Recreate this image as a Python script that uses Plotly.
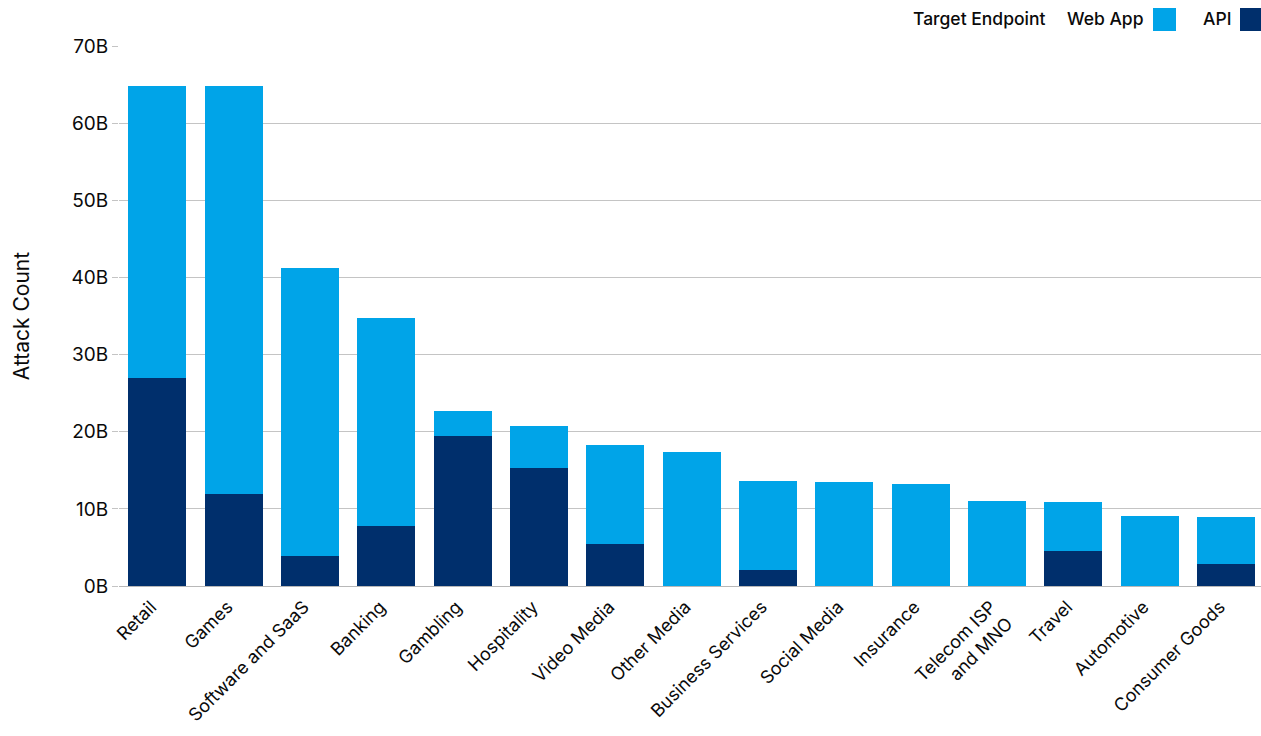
import plotly.graph_objects as go

# Attack counts per industry, in billions
industries = [
    "Retail", "Games", "Software and SaaS", "Banking", "Gambling", "Hospitality",
    "Video Media", "Other Media", "Business Services", "Social Media", "Insurance",
    "Telecom ISP<br>and MNO", "Travel", "Automotive", "Consumer Goods",
]
api_attacks = [27.0, 11.9, 3.9, 7.8, 19.4, 15.3, 5.4, 0.0, 2.1, 0.0, 0.0, 0.0, 4.5, 0.0, 2.8]
web_app_attacks = [37.8, 52.9, 37.3, 26.9, 3.3, 5.4, 12.9, 17.4, 11.5, 13.5, 13.2, 11.0, 6.4, 9.1, 6.1]
y_ticks = [0, 10, 20, 30, 40, 50, 60, 70]
y_tick_labels = [f"{v}B" for v in y_ticks]

WEB_COLOR = "#00A4E8"
API_COLOR = "#002F6C"
FONT = "Inter"
TEXT_COLOR = "#0A0A0A"

W, H = 1261, 736
M_L, M_R, M_T, M_B = 119, 0, 46, 150
PW, PH = W - M_L - M_R, H - M_T - M_B


def px_x(x):
    return (x - M_L) / PW


def px_y(y):
    return (H - M_B - y) / PH


fig = go.Figure()
fig.add_trace(go.Bar(x=industries, y=api_attacks, name="API",
                     marker=dict(color=API_COLOR, line=dict(width=0))))
fig.add_trace(go.Bar(x=industries, y=web_app_attacks, name="Web App",
                     marker=dict(color=WEB_COLOR, line=dict(width=0))))

# Legend drawn as text with swatches on the right side of each label
legend_font = dict(family=FONT, size=17.5, color=TEXT_COLOR, weight=500)
fig.add_annotation(text="Target Endpoint", x=px_x(1047), y=px_y(19), xref="paper", yref="paper",
                   xanchor="right", yanchor="middle", showarrow=False, font=legend_font)
fig.add_annotation(text="Web App", x=px_x(1145), y=px_y(19), xref="paper", yref="paper",
                   xanchor="right", yanchor="middle", showarrow=False, font=legend_font)
fig.add_annotation(text="API", x=px_x(1233), y=px_y(19), xref="paper", yref="paper",
                   xanchor="right", yanchor="middle", showarrow=False, font=legend_font)
fig.add_shape(type="rect", xref="paper", yref="paper", x0=px_x(1153), x1=px_x(1176),
              y0=px_y(31), y1=px_y(8), fillcolor=WEB_COLOR, line=dict(width=0))
fig.add_shape(type="rect", xref="paper", yref="paper", x0=px_x(1240), x1=px_x(1263),
              y0=px_y(31), y1=px_y(8), fillcolor=API_COLOR, line=dict(width=0))

fig.update_layout(
    width=W, height=H,
    margin=dict(l=M_L, r=M_R, t=M_T, b=M_B, pad=0),
    barmode="stack",
    bargap=0.24,
    showlegend=False,
    plot_bgcolor="white",
    paper_bgcolor="white",
    font=dict(family=FONT, size=18, color=TEXT_COLOR),
)
fig.update_xaxes(
    tickangle=-45,
    tickfont=dict(family=FONT, size=18, color=TEXT_COLOR),
    range=[-0.5, 14.46],
    showgrid=False,
    ticks="",
    showline=False,
    ticklabelstandoff=6,
    ticklabelshift=-6,
)
fig.update_yaxes(
    range=[0, 70],
    tickmode="array",
    tickvals=y_ticks,
    ticktext=y_tick_labels,
    tickfont=dict(family=FONT, size=19, color=TEXT_COLOR),
    showgrid=True,
    gridcolor="#C4C4C4",
    gridwidth=1,
    zeroline=True,
    zerolinecolor="#B8B8B8",
    zerolinewidth=1,
    ticks="outside",
    ticklen=6,
    tickcolor="#C4C4C4",
    title=dict(text="Attack Count", font=dict(family=FONT, size=21, color=TEXT_COLOR), standoff=36),
)

fig.write_html("out.html")
